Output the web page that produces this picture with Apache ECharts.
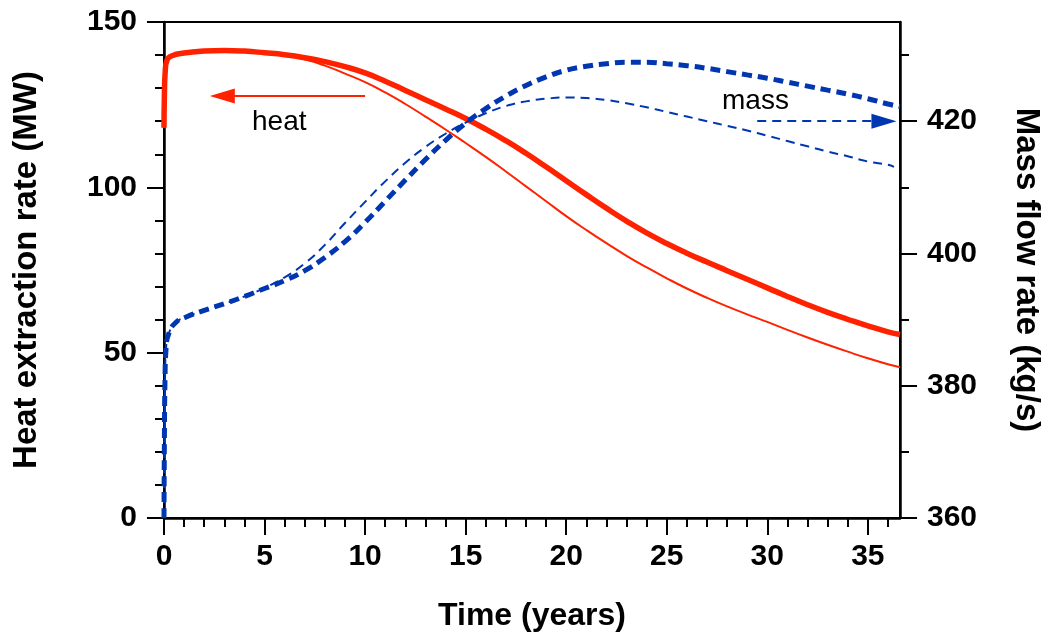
<!DOCTYPE html>
<html>
<head>
<meta charset="utf-8">
<script src="https://cdn.jsdelivr.net/npm/echarts@6/dist/echarts.min.js"></script>
<style>
html,body{margin:0;padding:0;background:#fff;}
#chart{width:1045px;height:638px;}
</style>
</head>
<body>
<div id="chart"></div>
<script>
// ---- data ----
var heatTime = [0,0.02,0.06,0.15,0.4,1,2,3,4,5,6,7,8,9,10,11,12,13,14,15,16,17,18,19,20,21,22,23,24,25,26,27,28,29,30,31,32,33,34,35,36,36.6];
var heatThick = [118,128,135,138.5,139.8,140.6,141.2,141.4,141.2,140.7,140.1,139.2,138.0,136.5,134.6,132.1,129.3,126.5,123.7,120.8,117.6,114.1,110.3,106.2,102.0,97.8,93.7,89.8,86.2,83.0,80.1,77.4,74.8,72.2,69.6,67.0,64.5,62.2,60.1,58.1,56.3,55.5];
var heatThin = [118,128,135,138.5,139.8,140.6,141.2,141.4,141.2,140.7,140.0,138.7,136.8,134.4,131.8,128.7,125.2,121.4,117.5,113.4,109.2,104.8,100.3,95.8,91.3,87.1,83.1,79.3,75.8,72.5,69.4,66.6,64.0,61.6,59.3,56.9,54.6,52.4,50.3,48.3,46.5,45.6];

var massTime = [0,0.02,0.05,0.1,0.25,0.6,1.1,2,3,4,5,6,7,8,9,10,11,12,13,14,15,16,17,18,19,20,21,22,23,24,25,26,27,28,29,30,31,32,33,34,35,36,36.6];
var massThick = [360,372,381,385.5,388,389.6,390.4,391.4,392.4,393.5,394.7,395.9,397.4,399.4,401.8,404.7,407.9,411.1,414.2,417.1,419.7,421.9,423.8,425.4,426.7,427.7,428.3,428.7,428.9,428.9,428.7,428.4,428.0,427.5,427.0,426.5,425.9,425.3,424.7,424.1,423.4,422.6,422.2];
var massThinTime = [0,0.02,0.05,0.1,0.25,0.6,1.1,2,3,4,5,6,7,8,9,10,11,12,13,14,15,16,17,18,19,20,21,22,23,24,25,26,27,28,29,30,31,32,33,34,35,36,36.3];
var massThin = [360,372,381,385.5,388,389.6,390.4,391.4,392.4,393.5,394.8,396.4,398.5,401.3,404.6,407.8,410.9,413.7,416.1,418.1,419.8,421.2,422.3,423.0,423.4,423.6,423.5,423.2,422.7,422.1,421.4,420.7,420.0,419.3,418.6,417.8,417.0,416.2,415.4,414.7,413.9,413.4,413.1];

// ---- tick labels ----
var xMajorTicks = [0,5,10,15,20,25,30,35];
var xMinorTicks = [1,2,3,4,6,7,8,9,11,12,13,14,16,17,18,19,21,22,23,24,26,27,28,29,31,32,33,34,36];
var massMajorTicks = [360,380,400,420];
var massMinorTicks = [370,390,410,430];

function pairs(xs, ys){ return xs.map(function(x,i){ return [x, ys[i]]; }); }

var RED = '#ff2200';
var BLUE = '#0036b0';
var FONT = 'Liberation Sans, Arial, Helvetica, sans-serif';
var labelStyle = {color:'#000', fontFamily:FONT, fontWeight:'bold', fontSize:30};
var nameStyleX = {color:'#000', fontFamily:FONT, fontWeight:'bold', fontSize:32};
var nameStyleY = {color:'#000', fontFamily:FONT, fontWeight:'bold', fontSize:33};

var chart = echarts.init(document.getElementById('chart'), null, {renderer:'canvas'});
chart.setOption({
  animation:false,
  backgroundColor:'#fff',
  grid:{left:164, right:145, top:22, bottom:120, show:true, borderColor:'#000', borderWidth:2, backgroundColor:'transparent', outerBoundsMode:'none'},
  xAxis:[{
    type:'value', position:'bottom', min:0, max:36.6,
    axisLine:{show:true, onZero:false, lineStyle:{color:'#000', width:2.5}},
    axisTick:{show:true, customValues:xMajorTicks, length:17, lineStyle:{color:'#000', width:2}},
    axisLabel:{customValues:xMajorTicks, margin:24, ...labelStyle},
    splitLine:{show:false},
    name:'Time (years)', nameLocation:'middle', nameGap:82, nameTextStyle:nameStyleX
  },{
    type:'value', position:'bottom', min:0, max:36.6,
    axisLine:{show:false, onZero:false},
    axisTick:{show:true, customValues:xMinorTicks, length:9, lineStyle:{color:'#000', width:2}},
    axisLabel:{show:false},
    splitLine:{show:false}
  }],
  yAxis:[{
    type:'value', position:'left', min:0, max:150, interval:50,
    axisLine:{show:true, onZero:false, lineStyle:{color:'#000', width:2.5}},
    axisTick:{show:true, length:17, lineStyle:{color:'#000', width:2}},
    minorTick:{show:true, splitNumber:5, length:9, lineStyle:{color:'#000', width:2}},
    axisLabel:{margin:27, ...labelStyle},
    splitLine:{show:false},
    name:'Heat extraction rate (MW)', nameLocation:'middle', nameGap:121, nameTextStyle:nameStyleY
  },{
    type:'value', position:'right', min:360, max:435,
    axisLine:{show:true, onZero:false, lineStyle:{color:'#000', width:2.5}},
    axisTick:{show:true, customValues:massMajorTicks, length:17, lineStyle:{color:'#000', width:2}},
    axisLabel:{customValues:massMajorTicks, margin:27, ...labelStyle},
    splitLine:{show:false},
    name:'Mass flow rate (kg/s)', nameLocation:'middle', nameGap:110, nameRotate:-90, nameTextStyle:nameStyleY
  },{
    type:'value', position:'right', min:360, max:435,
    axisLine:{show:false, onZero:false},
    axisTick:{show:true, customValues:massMinorTicks, length:9, lineStyle:{color:'#000', width:2}},
    axisLabel:{show:false},
    splitLine:{show:false}
  }],
  series:[{
    type:'line', xAxisIndex:0, yAxisIndex:0, data:pairs(heatTime, heatThin),
    showSymbol:false, smooth:0.5,
    lineStyle:{color:RED, width:2}
  },{
    type:'line', xAxisIndex:0, yAxisIndex:0, data:pairs(heatTime, heatThick),
    showSymbol:false, smooth:0.5,
    lineStyle:{color:RED, width:5.5},
    markLine:{
      silent:true, symbol:['none','triangle'], symbolSize:[15,25],
      label:{show:false},
      lineStyle:{color:RED, width:2, type:'solid'},
      data:[[{coord:[10,127.6]},{coord:[2.9,127.6]}]]
    }
  },{
    type:'line', xAxisIndex:0, yAxisIndex:1, data:pairs(massThinTime, massThin),
    showSymbol:false, smooth:0.5,
    lineStyle:{color:BLUE, width:2, type:[9,6]}
  },{
    type:'line', xAxisIndex:0, yAxisIndex:1, data:pairs(massTime, massThick),
    showSymbol:false, smooth:0.5,
    lineStyle:{color:BLUE, width:5, type:[10,6]},
    markLine:{
      silent:true, symbol:['none','triangle'], symbolSize:[15,25],
      label:{show:false},
      lineStyle:{color:BLUE, width:2, type:[9,6]},
      data:[[{coord:[29.5,420]},{coord:[35.8,420]}]]
    }
  }],
  graphic:[
    {type:'text', left:252, top:108, style:{text:'heat', font:'28px Liberation Sans, Arial, sans-serif', fill:'#000'}},
    {type:'text', left:722, top:87, style:{text:'mass', font:'28px Liberation Sans, Arial, sans-serif', fill:'#000'}}
  ]
});
</script>
</body>
</html>
